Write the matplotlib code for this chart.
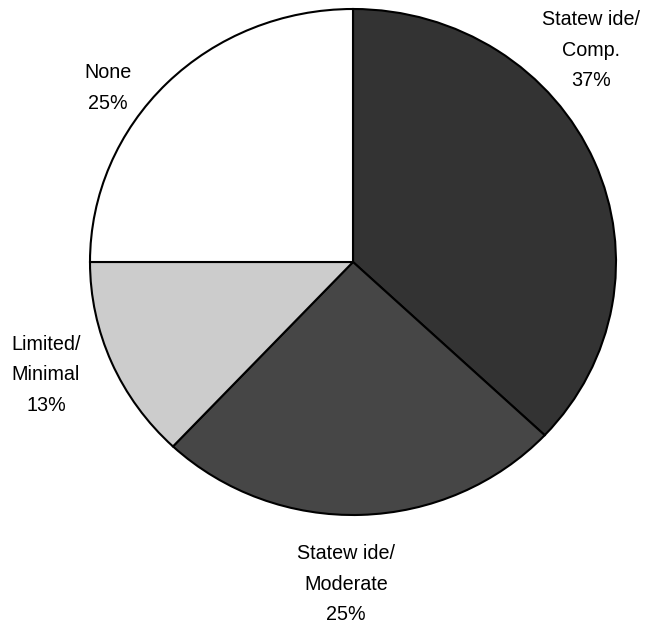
import matplotlib
matplotlib.use("Agg")
import matplotlib.pyplot as plt

plt.rcParams['font.family'] = ['Liberation Sans', 'DejaVu Sans']

categories = ["Statew ide/\nComp.", "Statew ide/\nModerate", "Limited/\nMinimal", "None"]
values = [37, 25, 13, 25]
colors = ["#333333", "#464646", "#cccccc", "#ffffff"]

W, H = 646, 625
fig = plt.figure(figsize=(W / 100, H / 100), dpi=100)
fig.patch.set_facecolor("white")

# pie occupies a slightly wider-than-tall box
left_px, right_px, top_px, bottom_px = 90, 616, 9, 515
ax = fig.add_axes([left_px / W, 1 - bottom_px / H,
                   (right_px - left_px) / W, (bottom_px - top_px) / H])
wedges, _ = ax.pie(values, colors=colors, startangle=90, counterclock=False,
                   wedgeprops=dict(edgecolor="black", linewidth=1.5))
for w in wedges:
    w.set_clip_on(False)
ax.set_aspect("auto")
ax.set_xlim(-1, 1)
ax.set_ylim(-1, 1)
ax.axis("off")

# label anchor positions (pixels from top-left)
label_pos = [(591, 50), (346, 584), (46, 375), (108, 88)]
for cat, val, (px, py) in zip(categories, values, label_pos):
    fig.text(px / W, 1 - py / H, f"{cat}\n{val}%", ha="center", va="center",
             multialignment="center", fontsize=14.2, linespacing=1.75,
             color="black")

fig.savefig("out.png", dpi=100, facecolor="white")
